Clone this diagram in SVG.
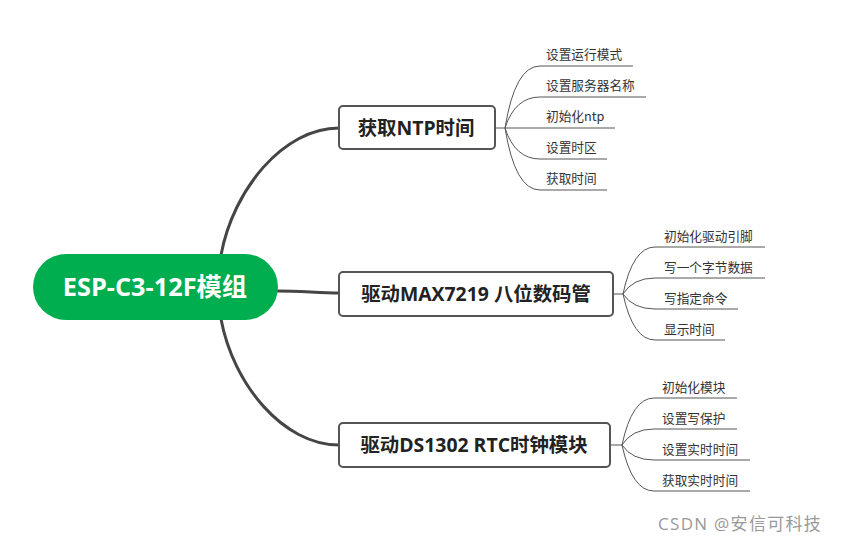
<svg xmlns="http://www.w3.org/2000/svg" width="844" height="541" viewBox="0 0 844 541">
<style>
.main{fill:none;stroke:#454545;stroke-width:3;stroke-linecap:round}
.sub{fill:none;stroke:#555;stroke-width:1}
.box{fill:#fff;stroke:#555;stroke-width:2}
.bt{font-family:"Open Sans","Noto Sans CJK SC",sans-serif;font-weight:bold;font-size:19.4px;fill:#222;text-anchor:middle}
.ct{font-family:"Noto Sans CJK SC","Open Sans",sans-serif;font-size:12.7px;fill:#333}
</style>
<rect width="844" height="541" fill="#fff"/>
<g id="connectors">
<path class="main" d="M221,255 C233,190 283,128 339,128"/>
<path class="main" d="M278,291 C300,291 320,293 339,293"/>
<path class="main" d="M221,319 C233,384 283,445 339,445"/>
<g class="sub">
<path d="M495,128 H505"/>
<path d="M505,128 Q515,66 540,66 H633"/>
<path d="M505,128 Q515,97 540,97 H646"/>
<path d="M505,128 H615"/>
<path d="M505,128 Q515,159 540,159 H607"/>
<path d="M505,128 Q515,190 540,190 H607"/>
<path d="M613,294 H623"/>
<path d="M623,294 Q633,247 655,247 H765"/>
<path d="M623,294 Q633,278 655,278 H765"/>
<path d="M623,294 Q633,309 655,309 H738"/>
<path d="M623,294 Q633,340 655,340 H725"/>
<path d="M610,445 H622"/>
<path d="M622,445 Q632,398 654,398 H737"/>
<path d="M622,445 Q632,429 654,429 H737"/>
<path d="M622,445 Q632,460 654,460 H750"/>
<path d="M622,445 Q632,491 654,491 H750"/>
</g>
</g>
<g id="root">
<rect x="33" y="254" width="245" height="66" rx="33" fill="#00ad4f"/>
<text x="155" y="296" font-family="Open Sans,Noto Sans CJK SC,sans-serif" font-weight="bold" font-size="25.3" fill="#fff" text-anchor="middle">ESP-C3-12F模组</text>
</g>
<g id="ntp">
<rect class="box" x="339" y="106" width="156" height="43" rx="4"/>
<text class="bt" x="416" y="135">获取NTP时间</text>
</g>
<g id="max7219">
<rect class="box" x="339" y="272" width="274" height="44" rx="4"/>
<text class="bt" x="476" y="301">驱动MAX7219 八位数码管</text>
</g>
<g id="ds1302">
<rect class="box" x="339" y="423" width="271" height="44" rx="4"/>
<text class="bt" x="474" y="452">驱动DS1302 RTC时钟模块</text>
</g>
<g id="ntp-children">
<text class="ct" x="546" y="59">设置运行模式</text>
<text class="ct" x="546" y="90">设置服务器名称</text>
<text class="ct" x="546" y="121">初始化ntp</text>
<text class="ct" x="546" y="152">设置时区</text>
<text class="ct" x="546" y="183">获取时间</text>
</g>
<g id="max-children">
<text class="ct" x="664" y="241">初始化驱动引脚</text>
<text class="ct" x="664" y="272">写一个字节数据</text>
<text class="ct" x="664" y="303">写指定命令</text>
<text class="ct" x="664" y="334">显示时间</text>
</g>
<g id="ds-children">
<text class="ct" x="662" y="392">初始化模块</text>
<text class="ct" x="662" y="423">设置写保护</text>
<text class="ct" x="662" y="454">设置实时时间</text>
<text class="ct" x="662" y="485">获取实时时间</text>
</g>
<text x="658" y="530" font-family="Open Sans,Noto Sans CJK SC,sans-serif" font-size="17" letter-spacing="1.3" fill="#999">CSDN @安信可科技</text>
</svg>
